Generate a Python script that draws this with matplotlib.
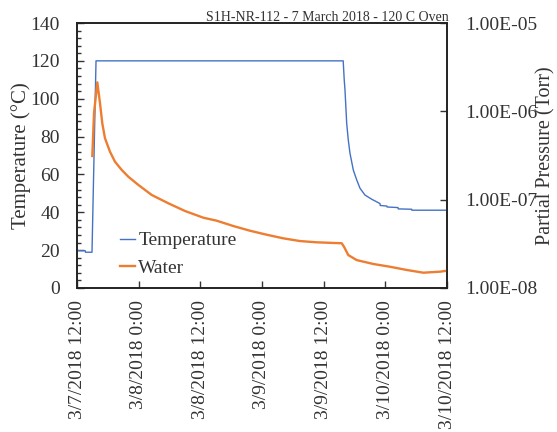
import matplotlib
matplotlib.use("Agg")
import matplotlib.pyplot as plt
import matplotlib.ticker as mticker
import pandas as pd

plt.rcParams['font.family'] = ['Liberation Serif', 'DejaVu Serif']

start = pd.Timestamp("2018-03-07 12:00")

# Temperature (°C) vs hours since 3/7/2018 12:00
temp_hours = [0.0, 1.6, 1.65, 2.92, 3.70, 51.80, 52.0, 52.15, 52.48, 52.79, 53.12, 53.77,
              54.43, 55.07, 56.04, 57.35, 58.96, 59.0, 60.3, 60.35, 62.46, 62.5,
              65.13, 65.17, 72.0]
temp_vals = [19.7, 19.7, 18.9, 18.9, 120.0, 120.0, 110.0, 104.6, 87.0, 78.2, 71.2, 62.3,
             57.1, 52.7, 49.1, 46.9, 44.6, 43.6, 43.3, 42.8, 42.5, 41.8,
             41.6, 41.1, 41.1]

# Water partial pressure (Torr)
water_hours = [2.98, 3.31, 3.95, 4.48, 4.92, 5.45, 6.42, 7.39, 8.70, 9.98, 11.93, 14.54,
               17.77, 21.02, 24.58, 27.18, 30.42, 33.66, 36.91, 40.14, 43.39, 46.64,
               51.51, 51.96, 52.79, 54.43, 57.66, 60.91, 64.16, 67.39, 70.64, 72.0]
water_vals = [3.12e-7, 9.50e-7, 2.13e-6, 1.233e-6, 7.32e-7, 4.95e-7, 3.49e-7, 2.69e-7,
              2.17e-7, 1.82e-7, 1.47e-7, 1.13e-7, 9.10e-8, 7.44e-8, 6.25e-8, 5.78e-8,
              5.03e-8, 4.45e-8, 4.01e-8, 3.65e-8, 3.40e-8, 3.29e-8, 3.21e-8, 2.93e-8,
              2.36e-8, 2.07e-8, 1.87e-8, 1.74e-8, 1.60e-8, 1.49e-8, 1.53e-8, 1.57e-8]

xtick_hours = [0, 12, 24, 36, 48, 60, 72]
xtick_labels = ["3/7/2018 12:00", "3/8/2018 0:00", "3/8/2018 12:00", "3/9/2018 0:00",
                "3/9/2018 12:00", "3/10/2018 0:00", "3/10/2018 12:00"]
right_ticks = [1e-8, 1e-7, 1e-6, 1e-5]
right_labels = ["1.00E-08", "1.00E-07", "1.00E-06", "1.00E-05"]

title = "S1H-NR-112 - 7 March 2018 - 120 C Oven"

def to_dt(hours):
    return [start + pd.Timedelta(hours=h) for h in hours]

fig = plt.figure(figsize=(5.57, 4.32), dpi=100)
ax = fig.add_axes([77/557, 1-288/432, 370/557, 265/432])
ax2 = ax.twinx()

blue = "#4472C4"
orange = "#ED7D31"
txt = '#333333'

l1, = ax.plot(to_dt(temp_hours), temp_vals, color=blue, lw=1.0, label="Temperature", zorder=3)
l2, = ax2.plot(to_dt(water_hours), water_vals, color=orange, lw=1.7, label="Water", zorder=2)

ax.set_ylim(0, 140)
ax.yaxis.set_major_locator(mticker.MultipleLocator(20))
ax.yaxis.set_minor_locator(mticker.MultipleLocator(4))
ax.set_xlim(start, start + pd.Timedelta(hours=72))
ax.set_xticks(to_dt(xtick_hours))
ax.set_xticklabels(xtick_labels, rotation=90)
ax.xaxis.set_minor_locator(mticker.NullLocator())

ax2.set_yscale('log')
ax2.set_ylim(1e-8, 1e-5)
ax2.set_yticks(right_ticks)
ax2.set_yticklabels(right_labels)
ax2.yaxis.set_minor_locator(mticker.NullLocator())

ax.tick_params(axis='x', which='major', direction='in', length=5, width=1, labelsize=14, pad=8.6, color=txt)
ax.tick_params(axis='y', which='major', direction='in', length=5, width=1, labelsize=14, pad=12.2, color=txt)
ax.tick_params(axis='y', which='minor', direction='in', length=3, width=1, color=txt)
ax2.tick_params(axis='y', which='major', direction='in', length=5, width=1, labelsize=14, pad=13, color=txt)

for a in (ax, ax2):
    for s in a.spines.values():
        s.set_linewidth(1.2)
        s.set_color('#222222')

ax.set_ylabel("Temperature (°C)", fontsize=15, color=txt)
ax.yaxis.set_label_coords(-0.124, 0.5)
ax2.set_ylabel("Partial Pressure (Torr)", fontsize=14.5, color=txt)
ax2.yaxis.set_label_coords(1.2405, 0.5)
for lab in ax.get_xticklabels() + ax.get_yticklabels() + ax2.get_yticklabels():
    lab.set_color(txt)

fig.text(449/557, 1-21/432, title, ha='right', va='baseline', fontsize=10, color=txt)

leg = ax.legend([l1, l2], ["Temperature", "Water"], loc='upper left',
                bbox_to_anchor=(110/557, 1-222/432), bbox_transform=fig.transFigure,
                frameon=False, fontsize=14, handlelength=0.8, handletextpad=0.15,
                labelspacing=0.5, borderpad=0)
for t in leg.get_texts():
    t.set_color(txt)

fig.savefig("out.png", dpi=100)
